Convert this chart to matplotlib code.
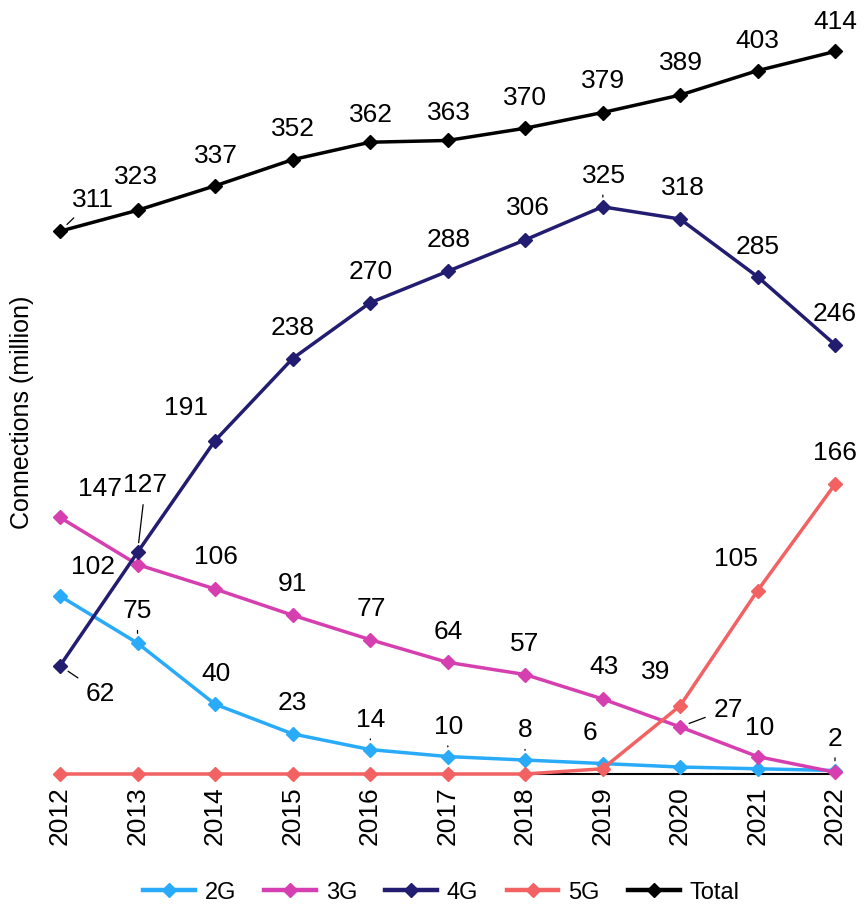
import matplotlib.pyplot as plt

plt.rcParams['font.family'] = ['Liberation Sans', 'DejaVu Sans']

years = [2012, 2013, 2014, 2015, 2016, 2017, 2018, 2019, 2020, 2021, 2022]
g2 = [102, 75, 40, 23, 14, 10, 8, 6, 4, 3, 2]
g3 = [147, 120, 106, 91, 77, 64, 57, 43, 27, 10, 1]
g4 = [62, 127, 191, 238, 270, 288, 306, 325, 318, 285, 246]
g5 = [0, 0, 0, 0, 0, 0, 0, 3, 39, 105, 166]
total = [311, 323, 337, 352, 362, 363, 370, 379, 389, 403, 414]

names = ['2G', '3G', '4G', '5G', 'Total']
colors = ['#29abf9', '#d63faf', '#221d70', '#f26262', '#000000']
series = [g2, g3, g4, g5, total]

# label offsets in pixels (dx, dy from point), None = no label, third item = leader line
offsets = {
    '2G': [(33, 30, False), (0, 33, True), (1, 31, False), (0, 32, False), (1, 31, True),
           (1, 31, True), (0, 31, True), (-13, 32, False), None, None, (0, 33, True)],
    '3G': [(40, 29, False), None, (1, 33, False), (0, 32, False), (1, 32, False),
           (1, 31, False), (0, 32, False), (1, 33, False), (48, 18, True), (2, 30, False), None],
    '4G': [(40, -27, True), (8, 68, True), (-29, 34, False), (0, 32, False), (1, 32, False),
           (1, 32, False), (3, 33, False), (1, 32, True), (3, 32, False), (0, 31, False),
           (0, 32, False)],
    '5G': [None] * 8 + [(-24, 35, False), (-22, 33, False), (0, 32, False)],
    'Total': [(33, 32, True), (-2, 34, False), (1, 31, False), (0, 32, False), (1, 28, False),
              (1, 28, False), (0, 31, False), (1, 33, False), (1, 33, False), (0, 31, False),
              (0, 30, False)],
}

fig = plt.figure(figsize=(8.65, 9.12), dpi=100)
ax = fig.add_axes([60 / 865, 137 / 912, 775 / 865, 733 / 912])

for name, vals, c in zip(names, series, colors):
    ax.plot(years, vals, color=c, lw=2.5, marker='D', markersize=7,
            label=name, clip_on=False, zorder=3)

px = 0.72
for name, vals, c in zip(names, series, colors):
    for x, v, off in zip(years, vals, offsets[name]):
        if off is None:
            continue
        dx, dy, lead = off
        kw = {}
        if lead:
            kw['arrowprops'] = dict(arrowstyle='-', color='black', lw=0.9,
                                    shrinkA=4, shrinkB=7)
        ax.annotate(str(v), (x, v), xytext=(dx * px, dy * px),
                    textcoords='offset points', ha='center', va='center',
                    fontsize=19, zorder=5, **kw)

ax.set_xlim(2012, 2022)
ax.set_ylim(0, 420)
ax.set_xticks(years)
ax.set_xticklabels([str(y) for y in years], rotation=90, fontsize=19)
ax.tick_params(axis='x', length=0, pad=8)
ax.set_yticks([])
for s in ['top', 'right', 'left']:
    ax.spines[s].set_visible(False)
ax.spines['bottom'].set_linewidth(1.5)
ax.spines['bottom'].set_zorder(1)
fig.text(22 / 865, 1 - 412 / 912, 'Connections (million)', rotation=90,
         ha='center', va='center', fontsize=18)

leg = fig.legend(loc='center', bbox_to_anchor=(0.51, 19 / 912), ncol=5, frameon=False,
                 handlelength=2.2, columnspacing=1.2, handletextpad=0.4,
                 prop={'size': 17})
for h in leg.legend_handles:
    h.set_linewidth(3.2)

fig.savefig('out.png', dpi=100)
